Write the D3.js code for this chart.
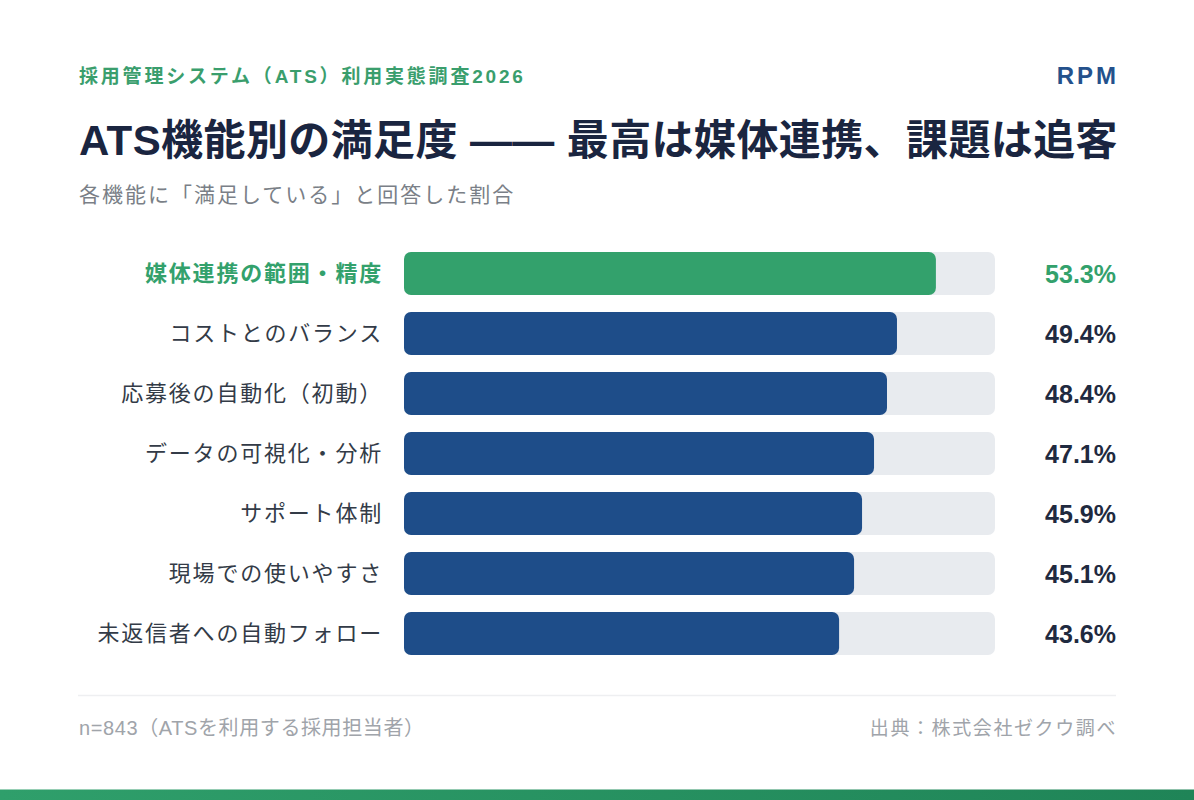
<!DOCTYPE html>
<html><head><meta charset="utf-8">
<script src="https://cdn.jsdelivr.net/npm/d3@7"></script>
<style>
html,body{margin:0;padding:0;background:#fff;}
svg{display:block;}
text{font-family:"Liberation Sans","Noto Sans CJK JP",sans-serif;}
</style></head>
<body>
<svg id="chart" width="1194" height="800"></svg>
<script>
const categories = ["媒体連携の範囲・精度","コストとのバランス","応募後の自動化（初動）","データの可視化・分析","サポート体制","現場での使いやすさ","未返信者への自動フォロー"];
const values = [53.3,49.4,48.4,47.1,45.9,45.1,43.6];
const highlight = ["媒体連携の範囲・精度"];
const eyebrow = "採用管理システム（ATS）利用実態調査2026";
const brand = "RPM";
const title = "ATS機能別の満足度 —— 最高は媒体連携、課題は追客";
const subtitle = "各機能に「満足している」と回答した割合";
const noteLeft = "n=843（ATSを利用する採用担当者）";
const noteRight = "出典：株式会社ゼクウ調べ";

const svg = d3.select("#chart");
const W = 1194, H = 800;
const left = 79, right = 1116;

const defs = svg.append("defs");
const g = defs.append("linearGradient").attr("id","stripe").attr("x1","0").attr("x2","1");
g.append("stop").attr("offset","0").attr("stop-color","#2f9f6b");
g.append("stop").attr("offset","1").attr("stop-color","#1f8457");

svg.append("text").attr("x",left).attr("y",83).attr("fill","#3a9e6d")
  .attr("font-size",19).attr("font-weight","bold").style("letter-spacing","2.8px").text(eyebrow);
svg.append("text").attr("x",right+3).attr("y",84).attr("text-anchor","end").attr("fill","#24518c")
  .attr("font-size",24).attr("font-weight","bold").style("letter-spacing","3px").text(brand);
svg.append("text").attr("x",left).attr("y",155).attr("fill","#1a2540")
  .attr("font-size",42).attr("font-weight","bold").style("letter-spacing","0.4px").text(title);
svg.append("text").attr("x",left).attr("y",202).attr("fill","#7a7f87")
  .attr("font-size",21).style("letter-spacing","2px").text(subtitle);

const x0 = 404, x1 = 995;
const x = d3.scaleLinear().domain([0, d3.max(values)/0.9]).range([x0, x1]);
const y2 = d3.scaleBand().domain(categories).range([252, 252+60*7 - 17]).paddingInner(17/60).paddingOuter(0);

const rows = svg.append("g").selectAll("g").data(categories).join("g")
  .attr("transform", d => `translate(0,${y2(d)})`);
const bh = y2.bandwidth();
rows.append("rect").attr("x",x0).attr("y",0).attr("width",x1-x0).attr("height",bh).attr("rx",7).attr("fill","#e8ebef");
rows.append("rect").attr("x",x0).attr("y",0).attr("width",(d,i)=>x(values[i])-x0).attr("height",bh).attr("rx",7)
  .attr("fill",d=>highlight.includes(d)?"#33a16c":"#1e4d89");
rows.append("text").attr("x",383).attr("y",bh/2).attr("dy","0.36em").attr("text-anchor","end")
  .attr("font-size",22).style("letter-spacing","1.8px")
  .attr("font-weight",d=>highlight.includes(d)?"bold":"normal")
  .attr("fill",d=>highlight.includes(d)?"#33a16c":"#333b47").text(d=>d);
rows.append("text").attr("x",right).attr("y",bh/2).attr("dy","0.36em").attr("text-anchor","end")
  .attr("font-size",25).attr("font-weight","bold")
  .attr("fill",d=>highlight.includes(d)?"#33a16c":"#1f2a40").text((d,i)=>values[i].toFixed(1)+"%");

svg.append("line").attr("x1",left-1).attr("x2",right).attr("y1",695.5).attr("y2",695.5).attr("stroke","#eeeff1").attr("stroke-width",1.5);
svg.append("text").attr("x",left).attr("y",735).attr("fill","#a0a4aa").attr("font-size",20).style("letter-spacing","0.6px").text(noteLeft);
svg.append("text").attr("x",right+1).attr("y",735).attr("text-anchor","end").attr("fill","#a0a4aa").attr("font-size",19).style("letter-spacing","1.6px").text(noteRight);

svg.append("rect").attr("x",0).attr("y",789.5).attr("width",W).attr("height",H-789.5).attr("fill","url(#stripe)");
</script>
</body></html>
